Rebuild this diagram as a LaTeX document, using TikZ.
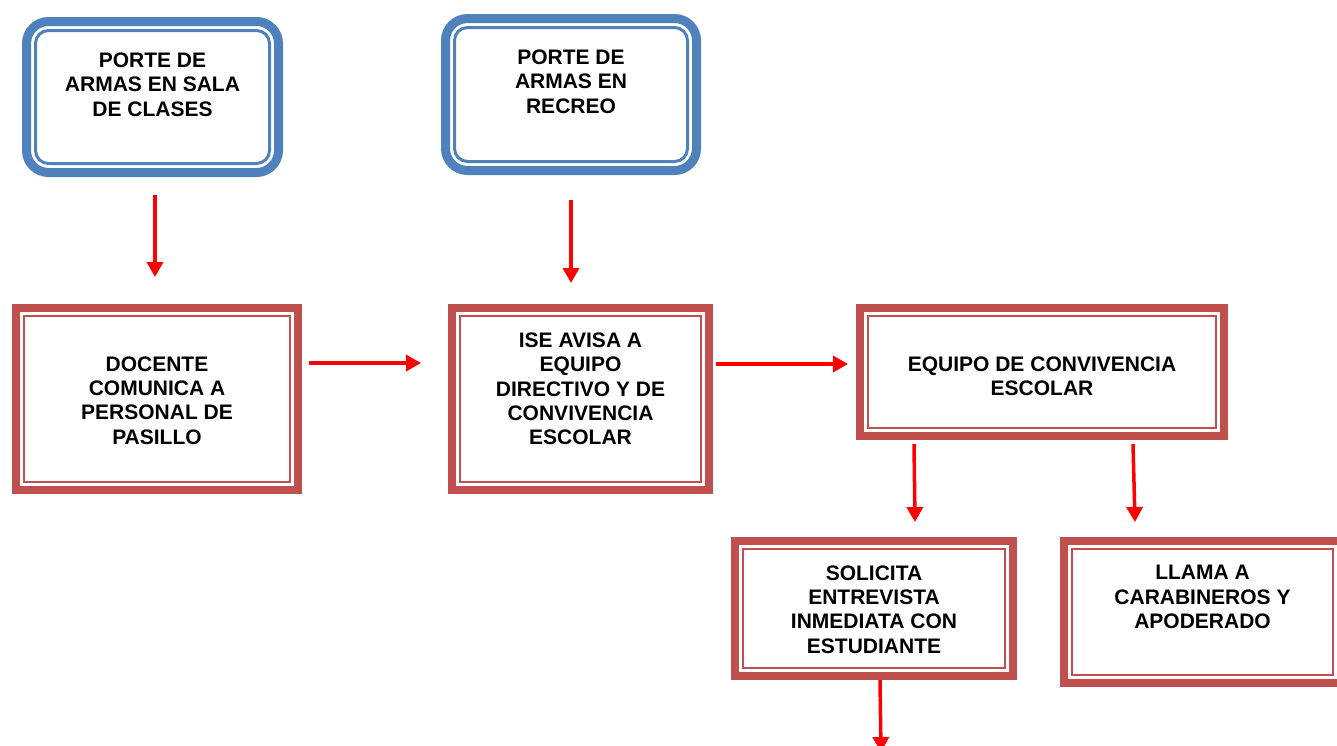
\documentclass[tikz,border=0pt]{standalone}
\usepackage{fontspec}
\setmainfont{Liberation Sans}
\usetikzlibrary{arrows.meta,calc}
\definecolor{boxblue}{HTML}{4F81BD}
\definecolor{boxred}{HTML}{C0504D}
\definecolor{arrred}{HTML}{FF0000}
\begin{document}
\begin{tikzpicture}[x=1pt,y=-1pt,
  bluebox/.style={draw=boxblue,line width=9pt,rounded corners=22pt,outer sep=0pt,inner sep=0pt},
  blueinner/.style={draw=boxblue,line width=3pt,rounded corners=13pt},
  redbox/.style={draw=boxred,line width=8pt,outer sep=0pt,inner sep=0pt},
  redinner/.style={draw=boxred,line width=2.5pt},
  txt/.style={font=\fontsize{21}{24.3}\selectfont\bfseries,align=center,inner sep=0pt},
  arr/.style={draw=arrred,line width=3.5pt,-{Triangle[length=15pt,width=16pt]}}]
\clip (0,0) rectangle (1337,745);
\fill[white] (0,0) rectangle (1337,745);
% blue boxes
\node[bluebox,minimum width=252pt,minimum height=151pt] (b1) at (152.5,97) {};
\node[bluebox,minimum width=251pt,minimum height=152pt] (b2) at (571,94.5) {};
\foreach \n in {b1,b2}
  \draw[blueinner] ($(\n.north west)+(9,9)$) rectangle ($(\n.south east)+(-9,-9)$);
% red boxes
\node[redbox,minimum width=282pt,minimum height=182pt] (r1) at (157,399) {};
\node[redbox,minimum width=257pt,minimum height=182pt] (r2) at (580.5,399) {};
\node[redbox,minimum width=364pt,minimum height=128pt] (r3) at (1042,372) {};
\node[redbox,minimum width=278pt,minimum height=135pt] (r4) at (874,608.5) {};
\node[redbox,minimum width=277pt,minimum height=142pt] (r5) at (1202.5,612) {};
\foreach \n in {r1,r2,r3,r4,r5}
  \draw[redinner] ($(\n.north west)+(8,8)$) rectangle ($(\n.south east)+(-8,-8)$);
% texts
\node[txt] (t1) at (152.5,84.5) {PORTE DE\\ARMAS EN SALA\\DE CLASES};
\node[txt] (t2) at (571,81.5) {PORTE DE\\ARMAS EN\\RECREO};
\node[txt] (t3) at (157,400.5) {DOCENTE\\COMUNICA A\\PERSONAL DE\\PASILLO};
\node[txt] (t4) at (580.5,389) {ISE AVISA A\\EQUIPO\\DIRECTIVO Y DE\\CONVIVENCIA\\ESCOLAR};
\node[txt] (t5) at (1042,376) {EQUIPO DE CONVIVENCIA\\ESCOLAR};
\node[txt] (t6) at (874,609.5) {SOLICITA\\ENTREVISTA\\INMEDIATA CON\\ESTUDIANTE};
\node[txt] (t7) at (1202.5,597) {LLAMA A\\CARABINEROS Y\\APODERADO};
% arrows
\coordinate (end7) at (881,752);
\draw[arr] ($(b1.south)+(2.5,22.5)$) -- ($(r1.north)+(-2,-31)$);
\draw[arr] ($(b2.south)+(0,29.5)$) -- ($(r2.north)+(-9.5,-25)$);
\draw[arr] ($(r1.east)+(11,-36)$) -- ($(r2.west)+(-31,-36)$);
\draw[arr] ($(r2.east)+(7,-35)$) -- ($(r3.west)+(-12,-8)$);
\draw[arr] ($(r3.south)+(-128,8)$) -- ($(r4.north)+(41,-19)$);
\draw[arr] ($(r3.south)+(91,8)$) -- ($(r5.north)+(-67.5,-19)$);
\draw[arr] ($(r4.south)+(6,4)$) -- (end7);
\end{tikzpicture}
\end{document}
